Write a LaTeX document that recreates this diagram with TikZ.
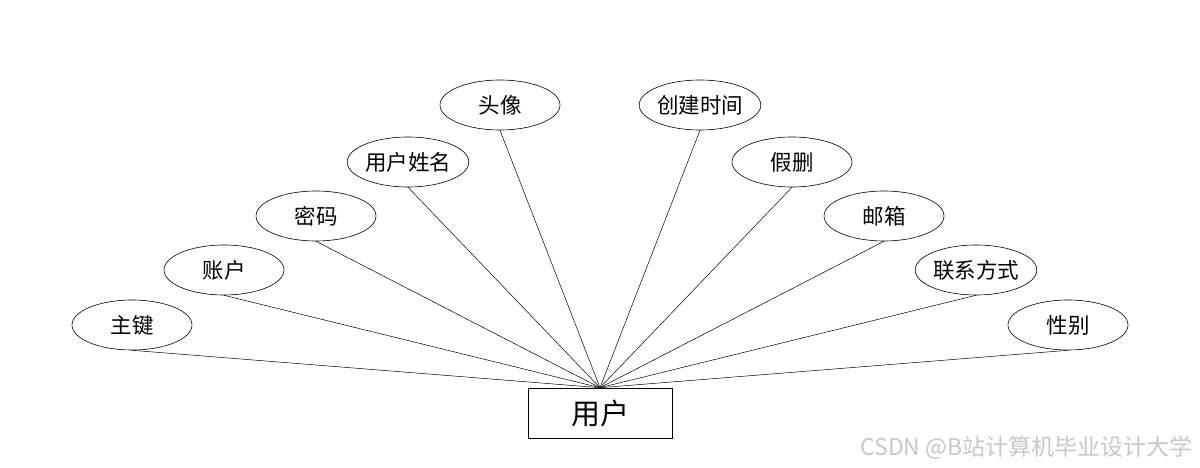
\documentclass[tikz,border=0pt]{standalone}
\usepackage{fontspec}
\setmainfont{Noto Sans CJK SC}
\usetikzlibrary{shapes.geometric}
\begin{document}
\begin{tikzpicture}[x=1pt,y=-1pt,
  attr/.style={draw=black,ellipse,line width=0.6pt,minimum width=120pt,minimum height=50pt,inner sep=0pt,font=\fontsize{21.5}{25}\selectfont},
  ent/.style={draw=black,rectangle,line width=0.6pt,minimum width=144pt,minimum height=50pt,inner sep=0pt,font=\fontsize{29}{34}\selectfont},
  link/.style={draw=black,line width=0.5pt}]
\path[use as bounding box,fill=white] (0,0) rectangle (1200,468);
\node[ent] (yh) at (600,413) {用户};
\node[attr] (zj) at (132,325) {主键};
\node[attr] (zh) at (224,270) {账户};
\node[attr] (mm) at (316,216) {密码};
\node[attr] (xm) at (408,162) {用户姓名};
\node[attr] (tx) at (500,105) {头像};
\node[attr] (cj) at (700,105) {创建时间};
\node[attr] (js) at (792,162) {假删};
\node[attr] (yx) at (884,216) {邮箱};
\node[attr] (lx) at (976,270) {联系方式};
\node[attr] (xb) at (1068,325) {性别};
\foreach \a in {zj,zh,mm,xm,tx,cj,js,yx,lx,xb}
  \draw[link] (\a.south) -- (yh.north);
\node[anchor=base east,text={rgb,255:red,200;green,200;blue,200},font=\fontsize{23}{27}\selectfont] (wm) at (1196,455) {CSDN @B站计算机毕业设计大学};
\end{tikzpicture}
\end{document}
